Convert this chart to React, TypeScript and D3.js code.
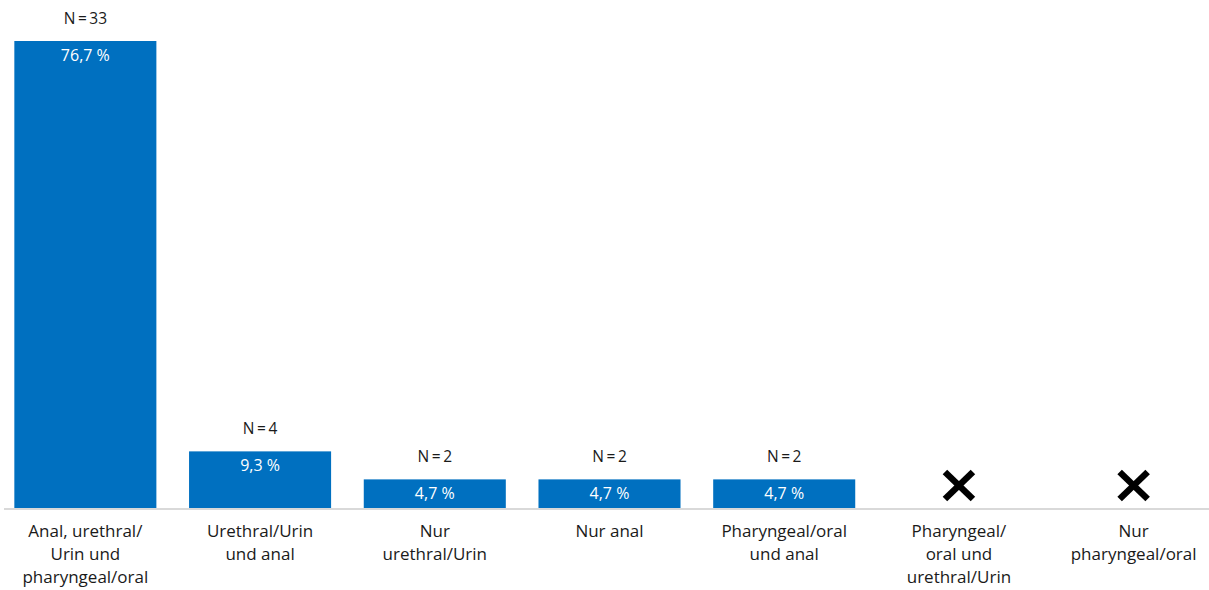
import React from "react";
import * as d3 from "d3";

const categories: string[][] = [
  ["Anal, urethral/", "Urin und", "pharyngeal/oral"],
  ["Urethral/Urin", "und anal"],
  ["Nur", "urethral/Urin"],
  ["Nur anal"],
  ["Pharyngeal/oral", "und anal"],
  ["Pharyngeal/", "oral und", "urethral/Urin"],
  ["Nur", "pharyngeal/oral"],
];
const percents: (number | null)[] = [76.7, 9.3, 4.7, 4.7, 4.7, null, null];
const counts: (number | null)[] = [33, 4, 2, 2, 2, null, null];

const W = 1209;
const H = 590;
const baseY = 508;
const topY = 41;
const FONT = "'Open Sans', Lato, sans-serif";

export default function App() {
  const x = d3
    .scaleBand<number>()
    .domain(categories.map((_, i) => i))
    .range([-2, 1221])
    .paddingInner(0.187)
    .paddingOuter(0.0935);
  const y = d3.scaleLinear().domain([0, 76.7]).range([baseY, topY]);
  const fmt = (v: number) => v.toFixed(1).replace(".", ",") + " %";

  return (
    <svg
      width={W}
      height={H}
      style={{ position: "absolute", left: 0, top: 0, background: "#fff" }}
      fontFamily={FONT}
    >
      <line x1={4} x2={1209} y1={baseY + 1} y2={baseY + 1} stroke="#d9d9d9" strokeWidth={2} />
      {categories.map((lines, i) => {
        const bx = x(i)!;
        const bw = x.bandwidth();
        const cx = bx + bw / 2;
        const v = percents[i];
        const n = counts[i];
        return (
          <g key={i}>
            {v !== null ? (
              <>
                <rect x={bx} y={y(v)} width={bw} height={baseY - y(v)} fill="#0070c0" />
                <text x={cx} y={y(v) + 20} textAnchor="middle" fill="#fff" fontSize={16}>
                  {fmt(v)}
                </text>
                <text x={cx} y={y(v) - 17} textAnchor="middle" fill="#1a1a1a" fontSize={15.5}>
                  {"N\u2009=\u2009" + n}
                </text>
              </>
            ) : (
              <g stroke="#000" strokeWidth={6.5}>
                <line x1={cx - 14} x2={cx + 14} y1={472} y2={499} />
                <line x1={cx - 14} x2={cx + 14} y1={499} y2={472} />
              </g>
            )}
            {lines.map((t, j) => (
              <text
                key={j}
                x={cx}
                y={537 + j * 23}
                textAnchor="middle"
                fill="#1a1a1a"
                fontSize={17}
              >
                {t}
              </text>
            ))}
          </g>
        );
      })}
    </svg>
  );
}
